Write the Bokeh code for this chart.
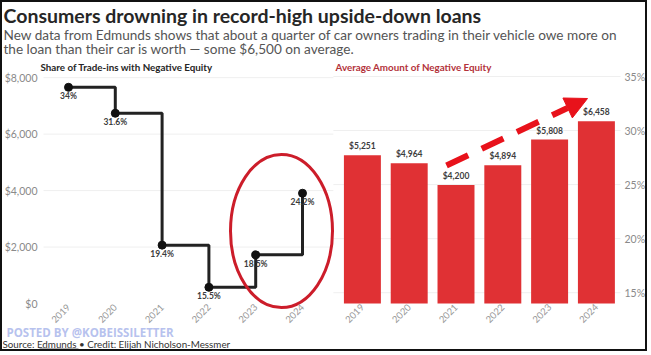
from bokeh.plotting import figure
from bokeh.models import (Range1d, LinearAxis, FixedTicker, NumeralTickFormatter,
                          PrintfTickFormatter, Label, Arrow, NormalHead, ColumnDataSource)
from bokeh.embed import file_html
from bokeh.resources import INLINE
from bokeh.core.properties import value

# ---------------- data ----------------
years = ["2019", "2020", "2021", "2022", "2023", "2024"]
share_pct = [34.0, 31.6, 19.4, 15.5, 18.5, 24.2]          # share of trade-ins with negative equity (%)
neg_equity = [5251, 4964, 4200, 4894, 5808, 6458]          # average amount of negative equity ($)
dollar_ticks = [0, 2000, 4000, 6000, 8000]
pct_ticks = [15, 20, 25, 30, 35]

FONT = "Lato"
BAR_OFFSET = 6.28

# ---------------- layout geometry (page pixels) ----------------
W, H, B = 647, 351, 2            # canvas size and border width
X0_PX, PX_PER_X = 68.0, 46.8     # page x of first category, px per category
ZERO_PX, PX_PER_K = 303.0, 28.23 # page y of $0, px per $1000
P35_PX, PX_PER_PCT = 76.0, 10.81 # page y of 35 %, px per %
PLOT_L, PLOT_R = 43.0, 620.0     # page x of the inner plot edges

def xd(px):
    return (px - X0_PX) / PX_PER_X

def yd(py):
    return (ZERO_PX - py) / PX_PER_K * 1000

x_start, x_end = xd(B), xd(B + W)
y_start, y_end = yd(B + H), yd(B)
p_start = 35 - (B + H - P35_PX) / PX_PER_PCT
p_end = 35 + (P35_PX - B) / PX_PER_PCT

line_x = [float(i) for i in range(len(years))]
bar_x = [BAR_OFFSET + i for i in range(len(years))]

p = figure(width=W, height=H, output_backend="svg", toolbar_location=None,
           x_range=Range1d(x_start, x_end), y_range=Range1d(y_start, y_end),
           min_border=0, min_border_left=0, min_border_right=0, min_border_top=0, min_border_bottom=0)
p.styles = {"border": "2px solid #111111"}
p.extra_y_ranges = {"pct": Range1d(p_start, p_end)}
p.outline_line_color = None
p.xgrid.visible = False
p.ygrid.visible = False
p.background_fill_color = "white"
p.border_fill_color = "white"

# ---- custom gridlines (left panel: $ ticks, right panel: % ticks)
split_x = 5.66
gl, gr = xd(PLOT_L), xd(PLOT_R)
p.segment(x0=[gl] * len(dollar_ticks[1:]), x1=[split_x] * len(dollar_ticks[1:]),
          y0=dollar_ticks[1:], y1=dollar_ticks[1:], line_color="#efefef", line_width=1, level="underlay")
p.segment(x0=[split_x] * len(pct_ticks), x1=[gr] * len(pct_ticks),
          y0=pct_ticks, y1=pct_ticks, line_color="#efefef", line_width=1, level="underlay",
          y_range_name="pct")

# ---- bars
bsrc = ColumnDataSource(dict(x=bar_x, v=neg_equity, lab=[f"${v:,}" for v in neg_equity]))
p.vbar(x="x", top="v", bottom=0, width=0.79, source=bsrc, fill_color="#e03134", line_color=None)
p.text(x="x", y="v", text="lab", source=bsrc, text_align="center", text_baseline="bottom",
       y_offset=-4, text_font=value(FONT), text_font_size="8.5px", text_font_style="bold",
       text_color="#3d3d3d")

# ---- step line
lsrc = ColumnDataSource(dict(x=line_x, v=share_pct, lab=[f"{v:g}%" for v in share_pct]))
p.step(x="x", y="v", source=lsrc, mode="after", line_color="#222222", line_width=3,
       y_range_name="pct")
p.scatter(x="x", y="v", source=lsrc, size=8, fill_color="#111111", line_color="#111111",
          y_range_name="pct")
p.text(x="x", y="v", text="lab", source=lsrc, text_align="center", text_baseline="top",
       y_offset=4, text_font=value(FONT), text_font_size="8.5px", text_font_style="bold",
       text_color="#3d3d3d", y_range_name="pct")

# ---- red ellipse highlight
p.ellipse(x=[xd(281)], y=[yd(230.5)], width=102, height=153,
          width_units="screen", height_units="screen",
          fill_color=None, line_color="#cc1d2a", line_width=3)

# ---- dashed arrow
p.add_layout(Arrow(x_start=xd(446), y_start=yd(165), x_end=xd(587), y_end=yd(98),
                   line_color="#e8121b", line_width=6, line_dash="24 15",
                   end=NormalHead(size=22, fill_color="#e8121b", line_color="#e8121b", line_width=1)))

# ---- axes (fixed inside the canvas)
ax = p.xaxis[0]
ax.fixed_location = 0
ax.ticker = FixedTicker(ticks=line_x + bar_x)
ax.major_label_overrides = {**{x: y for x, y in zip(line_x, years)}, **{x: y for x, y in zip(bar_x, years)}}
ax.major_label_orientation = 0.785
ax.axis_line_color = None
ax.major_tick_line_color = None
ax.minor_tick_line_color = None
ax.major_tick_out = 0
ax.major_tick_in = 0
ax.major_label_standoff = 2
ax.major_label_text_font = FONT
ax.major_label_text_font_size = "9.5px"
ax.major_label_text_color = "#999999"

ay = p.yaxis[0]
ay.fixed_location = gl
ay.ticker = FixedTicker(ticks=dollar_ticks)
ay.formatter = NumeralTickFormatter(format="$0,0")
ay_r = LinearAxis(y_range_name="pct", ticker=FixedTicker(ticks=pct_ticks),
                  formatter=PrintfTickFormatter(format="%d%%"), fixed_location=gr)
p.add_layout(ay_r, "right")
for a in (ay, ay_r):
    a.axis_line_color = None
    a.major_tick_line_color = None
    a.minor_tick_line_color = None
    a.major_tick_out = 0
    a.major_tick_in = 0
    a.major_label_text_font = FONT
    a.major_label_text_font_size = "10.5px"
    a.major_label_text_color = "#8a8a8a"
ay.major_label_standoff = 6
ay_r.major_label_standoff = 4

# ---- all texts as labels, positioned in page pixels
def lab(px, py, text, size, color, bold=False, font=FONT):
    p.add_layout(Label(x=px - B - 3, y=B + H - py, x_units="screen", y_units="screen", text=text,
                       text_font=font, text_font_size=size, text_color=color,
                       text_font_style="bold" if bold else "normal",
                       text_baseline="middle", text_align="left"))

lab(6, 14.5, "Consumers drowning in record-high upside-down loans", "19.5px", "#262626", True)
lab(6, 34, "New data from Edmunds shows that about a quarter of car owners trading in their vehicle owe more on",
    "13.6px", "#555555")
lab(6, 48.5, "the loan than their car is worth \u2014 some $6,500 on average.", "13.6px", "#555555")
lab(43, 66, "Share of Trade-ins with Negative Equity", "9.8px", "#262626", True)
lab(338, 66, "Average Amount of Negative Equity", "9.8px", "#b3323a", True)
lab(9, 332, "POSTED BY @KOBEISSILETTER", "11.5px", "#b7c2ee", True, "Open Sans")
lab(5, 343.5, "Source: Edmunds \u2022 Credit: Elijah Nicholson-Messmer", "9.8px", "#333333")

# underline of the "Edmunds" link in the source line
p.segment(x0=[xd(39)], x1=[xd(78)], y0=[yd(348.5)], y1=[yd(348.5)], line_color="#333333", line_width=0.8)

open("out.html", "w").write(file_html(p, INLINE))
